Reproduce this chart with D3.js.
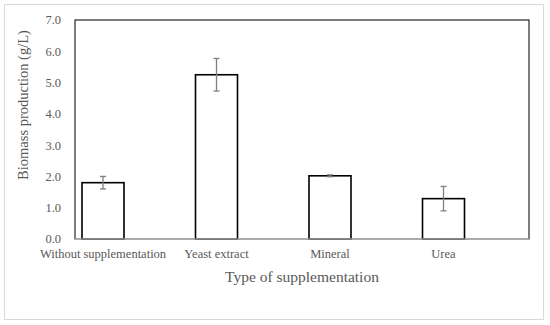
<!DOCTYPE html>
<html>
<head>
<meta charset="utf-8">
<script src="https://d3js.org/d3.v7.min.js"></script>
<style>
  body { margin: 0; background: #fff; }
  text { font-family: "Liberation Serif", "DejaVu Serif", serif; }
</style>
</head>
<body>
<script>
// chart data
var categories = ["Without supplementation", "Yeast extract", "Mineral", "Urea"];
var biomass = [1.80, 5.25, 2.02, 1.29];
var errors = [0.20, 0.52, 0.03, 0.39];
var yTicks = [0, 1, 2, 3, 4, 5, 6, 7];

var width = 550, height = 325;
var frame = {left: 75, right: 529, top: 20, bottom: 239};

var svg = d3.select("body").append("svg")
    .attr("width", width)
    .attr("height", height);

// outer chart border
svg.append("rect")
    .attr("x", 4.5).attr("y", 4.5)
    .attr("width", 539).attr("height", 315)
    .attr("fill", "#fff")
    .attr("stroke", "#d9d9d9");

var y = d3.scaleLinear().domain([0, 7]).range([frame.bottom, frame.top]);
var x = d3.scaleBand().domain(categories)
    .range([46.25, 500.25])
    .paddingInner(0.63).paddingOuter(0.315);

// plot frame
svg.append("rect")
    .attr("x", frame.left).attr("y", frame.top)
    .attr("width", frame.right - frame.left)
    .attr("height", frame.bottom - frame.top)
    .attr("fill", "none")
    .attr("stroke", "#262626")
    .attr("stroke-width", 1.2);

// bars
svg.selectAll("rect.bar")
    .data(biomass)
    .enter().append("rect")
    .attr("class", "bar")
    .attr("x", function(d, i) { return x(categories[i]); })
    .attr("y", function(d) { return y(d); })
    .attr("width", x.bandwidth())
    .attr("height", function(d) { return y(0) - y(d); })
    .attr("fill", "#fff")
    .attr("stroke", "#000")
    .attr("stroke-width", 1.6);

// bottom axis line (light gray)
svg.append("line")
    .attr("x1", frame.left).attr("x2", frame.right)
    .attr("y1", frame.bottom).attr("y2", frame.bottom)
    .attr("stroke", "#d9d9d9").attr("stroke-width", 1.2);

// error bars
var err = svg.selectAll("g.err")
    .data(biomass)
    .enter().append("g")
    .attr("class", "err")
    .attr("stroke", "#7f7f7f")
    .attr("stroke-width", 1.3);

err.append("line")
    .attr("x1", function(d, i) { return x(categories[i]) + x.bandwidth() / 2; })
    .attr("x2", function(d, i) { return x(categories[i]) + x.bandwidth() / 2; })
    .attr("y1", function(d, i) { return y(d + errors[i]); })
    .attr("y2", function(d, i) { return y(d - errors[i]); });

[1, -1].forEach(function(s) {
    err.append("line")
        .attr("x1", function(d, i) { return x(categories[i]) + x.bandwidth() / 2 - 3; })
        .attr("x2", function(d, i) { return x(categories[i]) + x.bandwidth() / 2 + 3; })
        .attr("y1", function(d, i) { return y(d + s * errors[i]); })
        .attr("y2", function(d, i) { return y(d + s * errors[i]); });
});

// y tick labels
svg.selectAll("text.ytick")
    .data(yTicks)
    .enter().append("text")
    .attr("class", "ytick")
    .attr("x", 61)
    .attr("y", function(d) { return y(d); })
    .attr("dy", "0.35em")
    .attr("text-anchor", "end")
    .attr("fill", "#595959")
    .attr("font-size", 12.5)
    .text(function(d) { return d3.format(".1f")(d); });

// x tick labels
svg.selectAll("text.xtick")
    .data(categories)
    .enter().append("text")
    .attr("class", "xtick")
    .attr("x", function(d) { return x(d) + x.bandwidth() / 2; })
    .attr("y", 258)
    .attr("text-anchor", "middle")
    .attr("fill", "#595959")
    .attr("font-size", 12.5)
    .text(function(d) { return d; });

// axis titles
svg.append("text")
    .attr("x", (frame.left + frame.right) / 2).attr("y", 282)
    .attr("text-anchor", "middle")
    .attr("fill", "#595959")
    .attr("font-size", 15.5)
    .text("Type of supplementation");

svg.append("text")
    .attr("transform", "translate(28,105) rotate(-90)")
    .attr("text-anchor", "middle")
    .attr("fill", "#595959")
    .attr("font-size", 14.5)
    .text("Biomass production (g/L)");
</script>
</body>
</html>
